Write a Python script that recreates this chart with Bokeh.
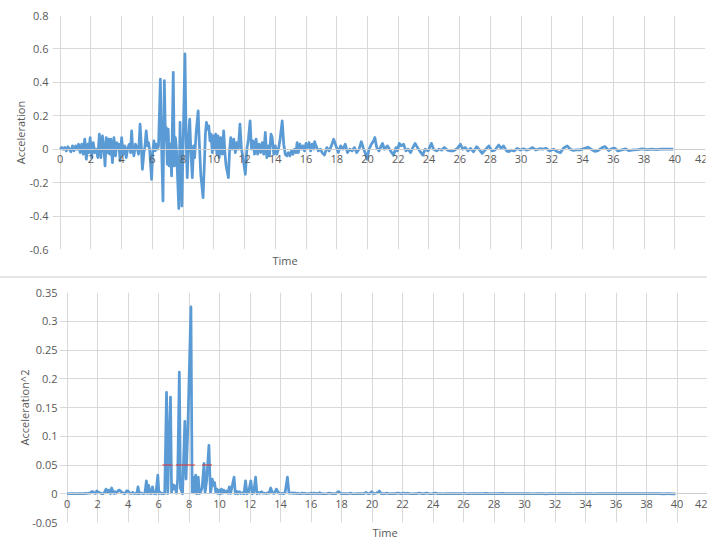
from bokeh.plotting import figure
from bokeh.models import Range1d, FixedTicker, Title, Div
from bokeh.layouts import column
from bokeh.embed import file_html
from bokeh.resources import INLINE

# ---------------- data ----------------
time = [0, 0.1, 0.2, 0.3, 0.4, 0.5, 0.6, 0.7, 0.8, 0.9, 1.0, 1.1, 1.2, 1.3, 1.4, 1.5, 1.6, 1.7, 1.8, 1.87,
        1.95, 2.05, 2.15, 2.25, 2.35, 2.45, 2.55, 2.65, 2.75, 2.85, 2.92, 3.0, 3.08, 3.15, 3.22, 3.3, 3.4, 3.5,
        3.6, 3.68, 3.75, 3.82, 3.9, 4.0, 4.1, 4.2, 4.3, 4.4, 4.5, 4.58, 4.65, 4.72, 4.8, 4.9, 5.0, 5.1, 5.2,
        5.28, 5.35, 5.45, 5.52, 5.6, 5.68, 5.75, 5.82, 5.95, 6.02, 6.1, 6.18, 6.25, 6.33, 6.4, 6.52, 6.6,
        6.69, 6.78, 6.85, 6.9, 6.97, 7.03, 7.1, 7.17, 7.25, 7.36, 7.43, 7.5, 7.57, 7.72, 7.8, 7.92, 8.12,
        8.2, 8.27, 8.35, 8.43, 8.5, 8.6, 8.68, 8.75, 8.85, 8.98, 9.05, 9.15, 9.3, 9.4, 9.45, 9.52, 9.6, 9.67,
        9.75, 9.82, 9.9, 9.97, 10.05, 10.12, 10.2, 10.27, 10.35, 10.45, 10.55, 10.64, 10.72, 10.8, 10.95,
        11.03, 11.1, 11.2, 11.3, 11.4, 11.5, 11.6, 11.7, 11.8, 11.9, 12.05, 12.15, 12.25, 12.36, 12.45,
        12.55, 12.65, 12.75, 12.85, 12.95, 13.05, 13.15, 13.25, 13.35, 13.45, 13.55, 13.62, 13.72, 13.8,
        13.9, 14.0, 14.1, 14.2, 14.3, 14.45, 14.55, 14.65, 14.75, 14.85, 14.95, 15.05, 15.15, 15.25, 15.35,
        15.42, 15.5, 15.6, 15.7, 15.8, 15.9, 16.0, 16.1, 16.2, 16.3, 16.4, 16.5, 16.56, 16.65, 16.8, 16.95,
        17.05, 17.2, 17.35, 17.5, 17.65, 17.8, 17.95, 18.1, 18.25, 18.4, 18.55, 18.7, 18.85, 19.0, 19.15,
        19.3, 19.45, 19.6, 19.75, 19.85, 19.97, 20.1, 20.25, 20.4, 20.48, 20.6, 20.75, 20.9, 20.98, 21.1,
        21.3, 21.5, 21.7, 21.85, 21.95, 22.07, 22.2, 22.35, 22.5, 22.65, 22.8, 22.95, 23.1, 23.25, 23.4,
        23.6, 23.75, 23.95, 24.16, 24.3, 24.5, 24.65, 24.85, 25.0, 25.2, 25.4, 25.6, 25.85, 26.05, 26.2,
        26.35, 26.55, 26.7, 26.9, 27.1, 27.3, 27.46, 27.65, 27.9, 28.1, 28.3, 28.54, 28.7, 28.85, 29.05,
        29.2, 29.35, 29.55, 29.75, 29.95, 30.15, 30.35, 30.55, 30.75, 30.95, 31.2, 31.4, 31.6, 31.85, 32.1,
        32.35, 32.57, 32.75, 33.0, 33.2, 33.4, 33.6, 33.85, 34.1, 34.35, 34.55, 34.8, 35.0, 35.25, 35.45,
        35.7, 35.9, 36.1, 36.3, 36.55, 36.8, 37.0, 37.3, 37.6, 37.9, 38.2, 38.5, 38.8, 39.1, 39.4, 39.7, 39.9]

accel = [0.0, 0.01, 0.0, 0.01, -0.01, 0.015, 0.0, -0.015, 0.02, -0.01, 0.02, 0.0, 0.03, -0.02, 0.03, -0.03,
         0.06, -0.06, 0.03, -0.02, 0.07, -0.05, 0.04, -0.02, 0.0, -0.05, 0.09, -0.05, 0.08, 0.0, -0.10, 0.07,
         -0.02, 0.06, -0.03, 0.06, -0.08, 0.07, -0.04, 0.04, 0.0, 0.03, -0.07, 0.07, -0.03, 0.02, -0.05, 0.01,
         0.03, -0.02, 0.11, 0.0, -0.04, 0.03, 0.01, -0.03, 0.15, 0.02, -0.12, -0.02, 0.02, 0.11, 0.02, 0.04,
         0.0, -0.18, -0.02, 0.05, -0.01, 0.03, 0.0, 0.02, 0.42, 0.02, -0.31, 0.41, 0.05, 0.13, -0.09, 0.12,
         -0.1, 0.03, -0.16, 0.46, -0.1, 0.07, 0.0, -0.355, 0.16, -0.34, 0.57, 0.05, -0.17, 0.05, 0.18, 0.0,
         -0.17, 0.02, -0.05, 0.1, 0.23, 0.05, -0.15, -0.29, -0.05, 0.09, 0.16, 0.12, 0.14, 0.05, 0.09, -0.02,
         0.08, 0.0, 0.09, -0.03, 0.08, -0.05, 0.07, -0.03, 0.11, -0.02, -0.1, -0.17, 0.0, 0.07, 0.0, 0.06,
         -0.02, 0.04, 0.0, 0.15, 0.0, -0.05, -0.15, 0.0, 0.06, 0.17, 0.0, 0.05, -0.03, 0.06, -0.03, 0.03,
         -0.02, 0.04, -0.03, 0.1, -0.05, 0.02, -0.04, 0.09, 0.07, -0.03, 0.02, -0.03, 0.0, 0.05, 0.17, 0.03,
         -0.03, -0.04, -0.02, -0.04, -0.01, -0.03, 0.0, -0.02, 0.04, -0.02, 0.03, 0.0, 0.02, -0.01, 0.035,
         0.01, 0.04, -0.01, 0.03, 0.0, 0.045, 0.02, -0.01, 0.0, -0.02, -0.035, 0.01, -0.01, 0.02, 0.06, 0.02,
         -0.02, 0.02, 0.0, 0.03, -0.02, 0.0, -0.01, 0.01, -0.02, 0.0, 0.045, 0.0, -0.02, -0.06, 0.0, 0.03,
         0.05, 0.07, 0.01, -0.01, 0.02, 0.035, 0.0, 0.02, -0.01, -0.035, 0.01, -0.01, 0.035, 0.02, 0.03,
         -0.01, 0.0, -0.02, 0.01, 0.035, 0.01, -0.01, -0.035, 0.0, -0.01, 0.035, 0.0, -0.01, 0.0, -0.005,
         0.01, -0.005, -0.01, -0.01, 0.005, 0.03, 0.0, 0.01, -0.01, 0.005, -0.015, 0.015, -0.005, -0.025,
         -0.005, 0.02, -0.01, -0.005, 0.025, 0.005, 0.02, -0.01, -0.015, -0.005, -0.01, 0.005, -0.005,
         0.003, -0.005, 0.0, 0.01, -0.005, 0.003, 0.0, 0.006, -0.01, 0.0, -0.015, -0.02, 0.006, 0.02, 0.0,
         -0.007, -0.004, -0.004, 0.004, 0.012, 0.0, -0.013, -0.008, 0.008, 0.016, -0.008, 0.004, 0.006,
         -0.01, -0.004, 0.002, -0.008, -0.004, -0.002, 0.002, -0.003, 0.001, -0.002, 0.0, 0.001, 0.0, 0.0]

accel_sq = [a * a for a in accel]

x_ticks = list(range(0, 43, 2))
x_tick_labels = [str(t) for t in x_ticks]
acc_ticks = [-0.6, -0.4, -0.2, 0, 0.2, 0.4, 0.6, 0.8]
acc_tick_labels = ["-0.6", "-0.4", "-0.2", "0", "0.2", "0.4", "0.6", "0.8"]
sq_ticks = [-0.05, 0, 0.05, 0.1, 0.15, 0.2, 0.25, 0.3, 0.35]
sq_tick_labels = ["-0.05", "0", "0.05", "0.1", "0.15", "0.2", "0.25", "0.3", "0.35"]

# short red threshold marks on the squared chart
mark_start = [6.25, 7.13, 8.85]
mark_end = [6.91, 8.38, 9.5]
mark_level = [0.05, 0.05, 0.05]

X_MIN, X_MAX = 0, 42
PAD = -0.5  # a little room left of x=0 so that the "0" tick label is not clipped

FONT = "Open Sans"
TXT = "#595959"
GRID = "#d9d9d9"
BLUE = "#5B9BD5"


def style(p, yticks, ylabels, ylabel, label_standoff, title_standoff):
    p.outline_line_color = None
    p.background_fill_color = "white"
    p.border_fill_color = "white"
    p.frame_align = False
    p.xgrid.ticker = FixedTicker(ticks=x_ticks)
    p.ygrid.ticker = FixedTicker(ticks=yticks)
    p.ygrid.bounds = (X_MIN, X_MAX)
    for g in (p.xgrid, p.ygrid):
        g.grid_line_color = GRID
        g.grid_line_width = 1
    ya = p.yaxis[0]
    ya.ticker = FixedTicker(ticks=yticks)
    ya.major_label_overrides = dict(zip(yticks, ylabels))
    ya.axis_line_color = None
    ya.major_tick_line_color = None
    ya.minor_tick_line_color = None
    ya.major_tick_out = 0
    ya.major_tick_in = 0
    ya.major_label_standoff = label_standoff
    ya.major_label_text_font = FONT
    ya.major_label_text_font_size = "11px"
    ya.major_label_text_color = TXT
    ya.axis_label = ylabel
    ya.axis_label_text_font = FONT
    ya.axis_label_text_font_size = "11px"
    ya.axis_label_text_font_style = "normal"
    ya.axis_label_text_color = TXT
    ya.axis_label_standoff = title_standoff
    # horizontal axis crosses at y = 0
    xa = p.xaxis[0]
    xa.fixed_location = 0
    xa.bounds = (X_MIN, X_MAX)
    xa.ticker = FixedTicker(ticks=x_ticks)
    xa.major_label_overrides = dict(zip(x_ticks, x_tick_labels))
    xa.axis_line_color = "#cfcfcf"
    xa.major_tick_line_color = None
    xa.minor_tick_line_color = None
    xa.major_tick_out = 0
    xa.major_tick_in = 0
    xa.major_label_standoff = 6
    xa.major_label_text_font = FONT
    xa.major_label_text_font_size = "11px"
    xa.major_label_text_color = TXT


p1 = figure(width=707, height=276, x_range=Range1d(PAD, X_MAX), y_range=Range1d(-0.6, 0.8),
            output_backend="svg", toolbar_location=None,
            min_border_left=52, min_border_right=2, min_border_top=15, min_border_bottom=27)
style(p1, acc_ticks, acc_tick_labels, "Acceleration", 4, -2)
p1.line(time, accel, line_color=BLUE, line_width=2.75, line_join="round")
p1.add_layout(Title(text="Time", align="left", offset=220, standoff=2, text_font=FONT,
                    text_font_size="11px", text_font_style="normal", text_color=TXT), "below")

sep = Div(width=707, height=2, margin=0, styles={"background-color": "#e6e6e6"})

p2 = figure(width=707, height=262, x_range=Range1d(PAD, X_MAX), y_range=Range1d(-0.05, 0.35),
            output_backend="svg", toolbar_location=None,
            min_border_left=59, min_border_right=0, min_border_top=14, min_border_bottom=14)
style(p2, sq_ticks, sq_tick_labels, "Acceleration^2", 2, -3)
p2.line(time, accel_sq, line_color=BLUE, line_width=2.75, line_join="round")
p2.segment(x0=mark_start, y0=mark_level, x1=mark_end, y1=mark_level, line_color="#e0302a", line_width=1)
p2.add_layout(Title(text="Time", align="left", offset=313, standoff=1, text_font=FONT, text_font_size="11px",
                    text_font_style="normal", text_color=TXT), "below")

layout = column(p1, sep, p2, spacing=0)
open("out.html", "w").write(file_html(layout, INLINE))
